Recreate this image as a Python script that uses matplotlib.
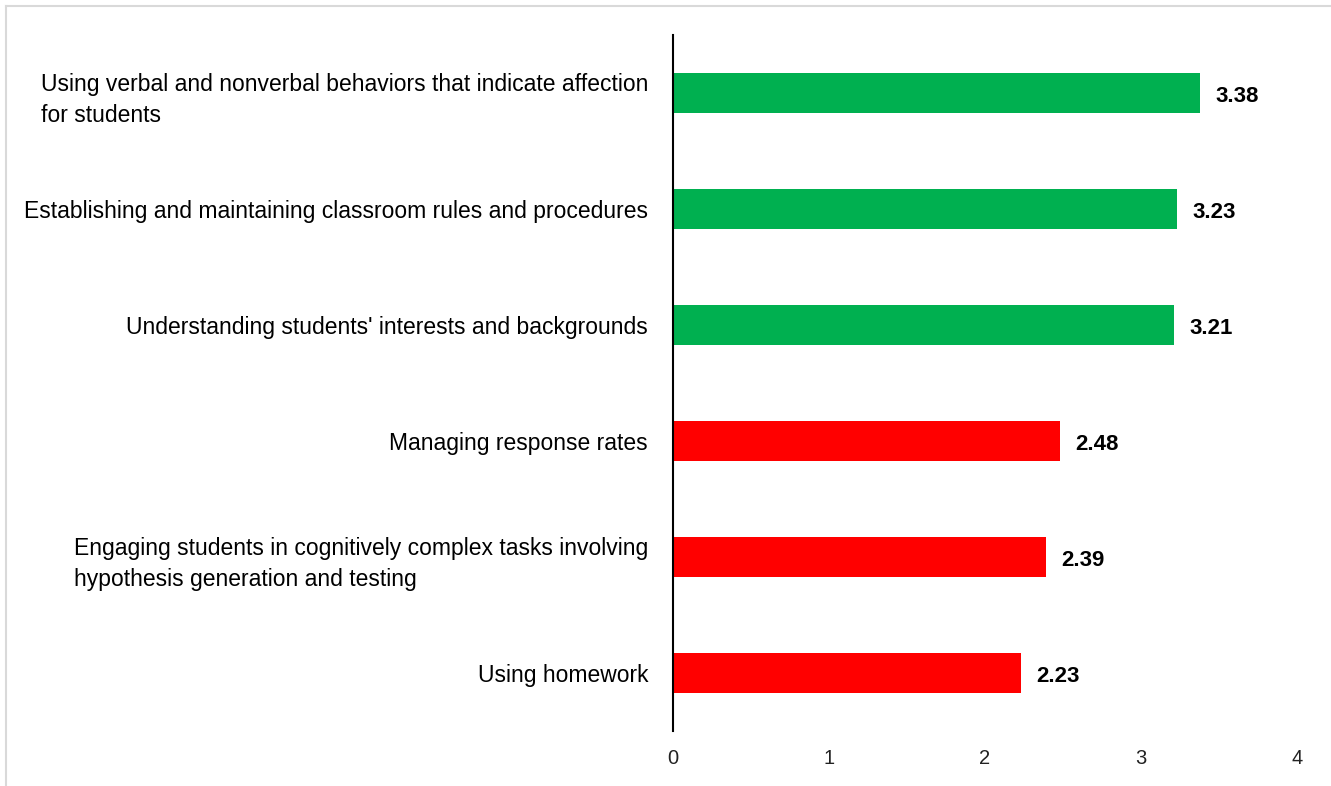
import matplotlib.pyplot as plt
from matplotlib.lines import Line2D

plt.rcParams['font.family'] = ['Liberation Sans Narrow', 'Liberation Sans', 'DejaVu Sans']

# data, top to bottom
labels = [
    'Using verbal and nonverbal behaviors that indicate affection\nfor students',
    'Establishing and maintaining classroom rules and procedures',
    "Understanding students' interests and backgrounds",
    'Managing response rates',
    'Engaging students in cognitively complex tasks involving\nhypothesis generation and testing',
    'Using homework',
]
values = [3.38, 3.23, 3.21, 2.48, 2.39, 2.23]
colors = ['#00B050', '#00B050', '#00B050', '#FF0000', '#FF0000', '#FF0000']
xticks = [0, 1, 2, 3, 4]

fig = plt.figure(figsize=(13.31, 7.86), dpi=100)
ax = fig.add_axes([673/1331, 1 - 731/786, (1297 - 673)/1331, (731 - 35)/786])

pos = list(range(len(labels)))
ax.barh(pos, values, height=0.345, color=colors)
for p, v in zip(pos, values):
    ax.text(v + 0.1, p + 0.03, f'{v:.2f}', va='center', ha='left',
            fontsize=16, fontweight='bold', color='#000000')

ax.set_xlim(0, 4)
ax.set_ylim(len(labels) - 0.5, -0.5)
ax.set_yticks(pos)
ax.set_yticklabels(labels, fontsize=16.5, color='#000000',
                   linespacing=1.45, multialignment='left')
ax.set_xticks(xticks)
ax.set_xticklabels([str(t) for t in xticks], fontsize=14.5, color='#222222')
ax.tick_params(axis='both', length=0)
ax.tick_params(axis='x', pad=13)
ax.tick_params(axis='y', pad=18)
for s in ['top', 'right', 'bottom']:
    ax.spines[s].set_visible(False)
ax.spines['left'].set_linewidth(1.5)
ax.spines['left'].set_color('#000000')

# light frame around the chart area (cut at right and bottom)
fig.add_artist(Line2D([5.5/1331, 1], [1 - 5.5/786, 1 - 5.5/786],
                      transform=fig.transFigure, color='#D9D9D9', lw=1.5))
fig.add_artist(Line2D([5.5/1331, 5.5/1331], [0, 1 - 5.5/786],
                      transform=fig.transFigure, color='#D9D9D9', lw=1.5))

fig.savefig('out.png', dpi=100)
